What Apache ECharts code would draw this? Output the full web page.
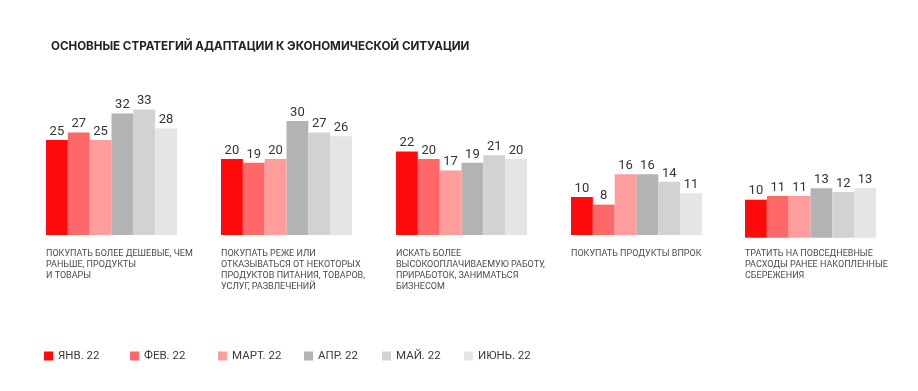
<!DOCTYPE html>
<html>
<head>
<meta charset="utf-8">
<script src="https://cdn.jsdelivr.net/npm/echarts@6/dist/echarts.min.js"></script>
<style>html,body{margin:0;padding:0;background:#fff}#c{width:918px;height:391px}</style>
</head>
<body>
<div id="c"></div>
<script>
const title = 'ОСНОВНЫЕ СТРАТЕГИЙ АДАПТАЦИИ К ЭКОНОМИЧЕСКОЙ СИТУАЦИИ';
const categories = [
  'ПОКУПАТЬ БОЛЕЕ ДЕШЕВЫЕ, ЧЕМ\nРАНЬШЕ, ПРОДУКТЫ\nИ ТОВАРЫ',
  'ПОКУПАТЬ РЕЖЕ ИЛИ\nОТКАЗЫВАТЬСЯ ОТ НЕКОТОРЫХ\nПРОДУКТОВ ПИТАНИЯ, ТОВАРОВ,\nУСЛУГ, РАЗВЛЕЧЕНИЙ',
  'ИСКАТЬ БОЛЕЕ\nВЫСОКООПЛАЧИВАЕМУЮ РАБОТУ,\nПРИРАБОТОК, ЗАНИМАТЬСЯ\nБИЗНЕСОМ',
  'ПОКУПАТЬ ПРОДУКТЫ ВПРОК',
  'ТРАТИТЬ НА ПОВСЕДНЕВНЫЕ\nРАСХОДЫ РАНЕЕ НАКОПЛЕННЫЕ\nСБЕРЕЖЕНИЯ'
];
const months = ['ЯНВ. 22', 'ФЕВ. 22', 'МАРТ. 22', 'АПР. 22', 'МАЙ. 22', 'ИЮНЬ. 22'];
const jan = [25, 20, 22, 10, 10];
const feb = [27, 19, 20, 8, 11];
const mar = [25, 20, 17, 16, 11];
const apr = [32, 30, 19, 16, 13];
const may = [33, 27, 21, 14, 12];
const jun = [28, 26, 20, 11, 13];
const monthValues = [jan, feb, mar, apr, may, jun];
const colors = ['#ff0a0a', '#ff6868', '#ff9c9c', '#b3b3b3', '#d2d2d2', '#e6e4e5'];

const FONT = 'Roboto';
const gridLefts = [46, 221, 396, 571, 745];
const gridBottoms = [156, 156, 156, 156, 153.3];
const labelMargins = [13, 13, 13, 13, 10.3];
const GW = 131, GH = 152;

const grids = [], xAxes = [], yAxes = [], series = [];
categories.forEach((cat, g) => {
  grids.push({left: gridLefts[g], width: GW, bottom: gridBottoms[g], height: GH});
  xAxes.push({
    type: 'category', gridIndex: g, data: [cat],
    axisLine: {show: false}, axisTick: {show: false}, splitLine: {show: false},
    axisLabel: {
      interval: 0, margin: labelMargins[g], align: 'center', verticalAlign: 'top',
      formatter: v => v.split('\n').map(l => '{a|' + l + '}').join('\n'),
      rich: {a: {width: GW, align: 'left', fontFamily: FONT, fontSize: 9, lineHeight: 11, color: '#4a4a4a'}}
    }
  });
  yAxes.push({type: 'value', gridIndex: g, min: 0, max: 40, show: false, splitLine: {show: false}});
});
months.forEach((m, mi) => {
  categories.forEach((cat, g) => {
    series.push({
      name: m, type: 'bar', xAxisIndex: g, yAxisIndex: g,
      barGap: '0%', barCategoryGap: '0%',
      data: [monthValues[mi][g]],
      itemStyle: {color: colors[mi]},
      label: {show: true, position: 'top', distance: 2, fontFamily: FONT, fontSize: 13, color: '#333'},
      emphasis: {disabled: true}
    });
  });
});
const legendLefts = [39, 125, 213, 299, 377, 459];
const legends = months.map((m, i) => ({
  data: [m], left: legendLefts[i], top: 345, itemWidth: 9, itemHeight: 9, icon: 'rect',
  itemGap: 6,
  textStyle: {fontFamily: FONT, fontSize: 11.5, color: '#3a3a3a'}
}));

const chart = echarts.init(document.getElementById('c'));
chart.setOption({
  animation: false,
  color: colors,
  title: {text: title, left: 46, top: 36, textStyle: {fontFamily: 'Inter', fontSize: 11.6, fontWeight: 'bold', color: '#222'}},
  legend: legends,
  grid: grids, xAxis: xAxes, yAxis: yAxes, series: series
});
</script>
</body>
</html>
